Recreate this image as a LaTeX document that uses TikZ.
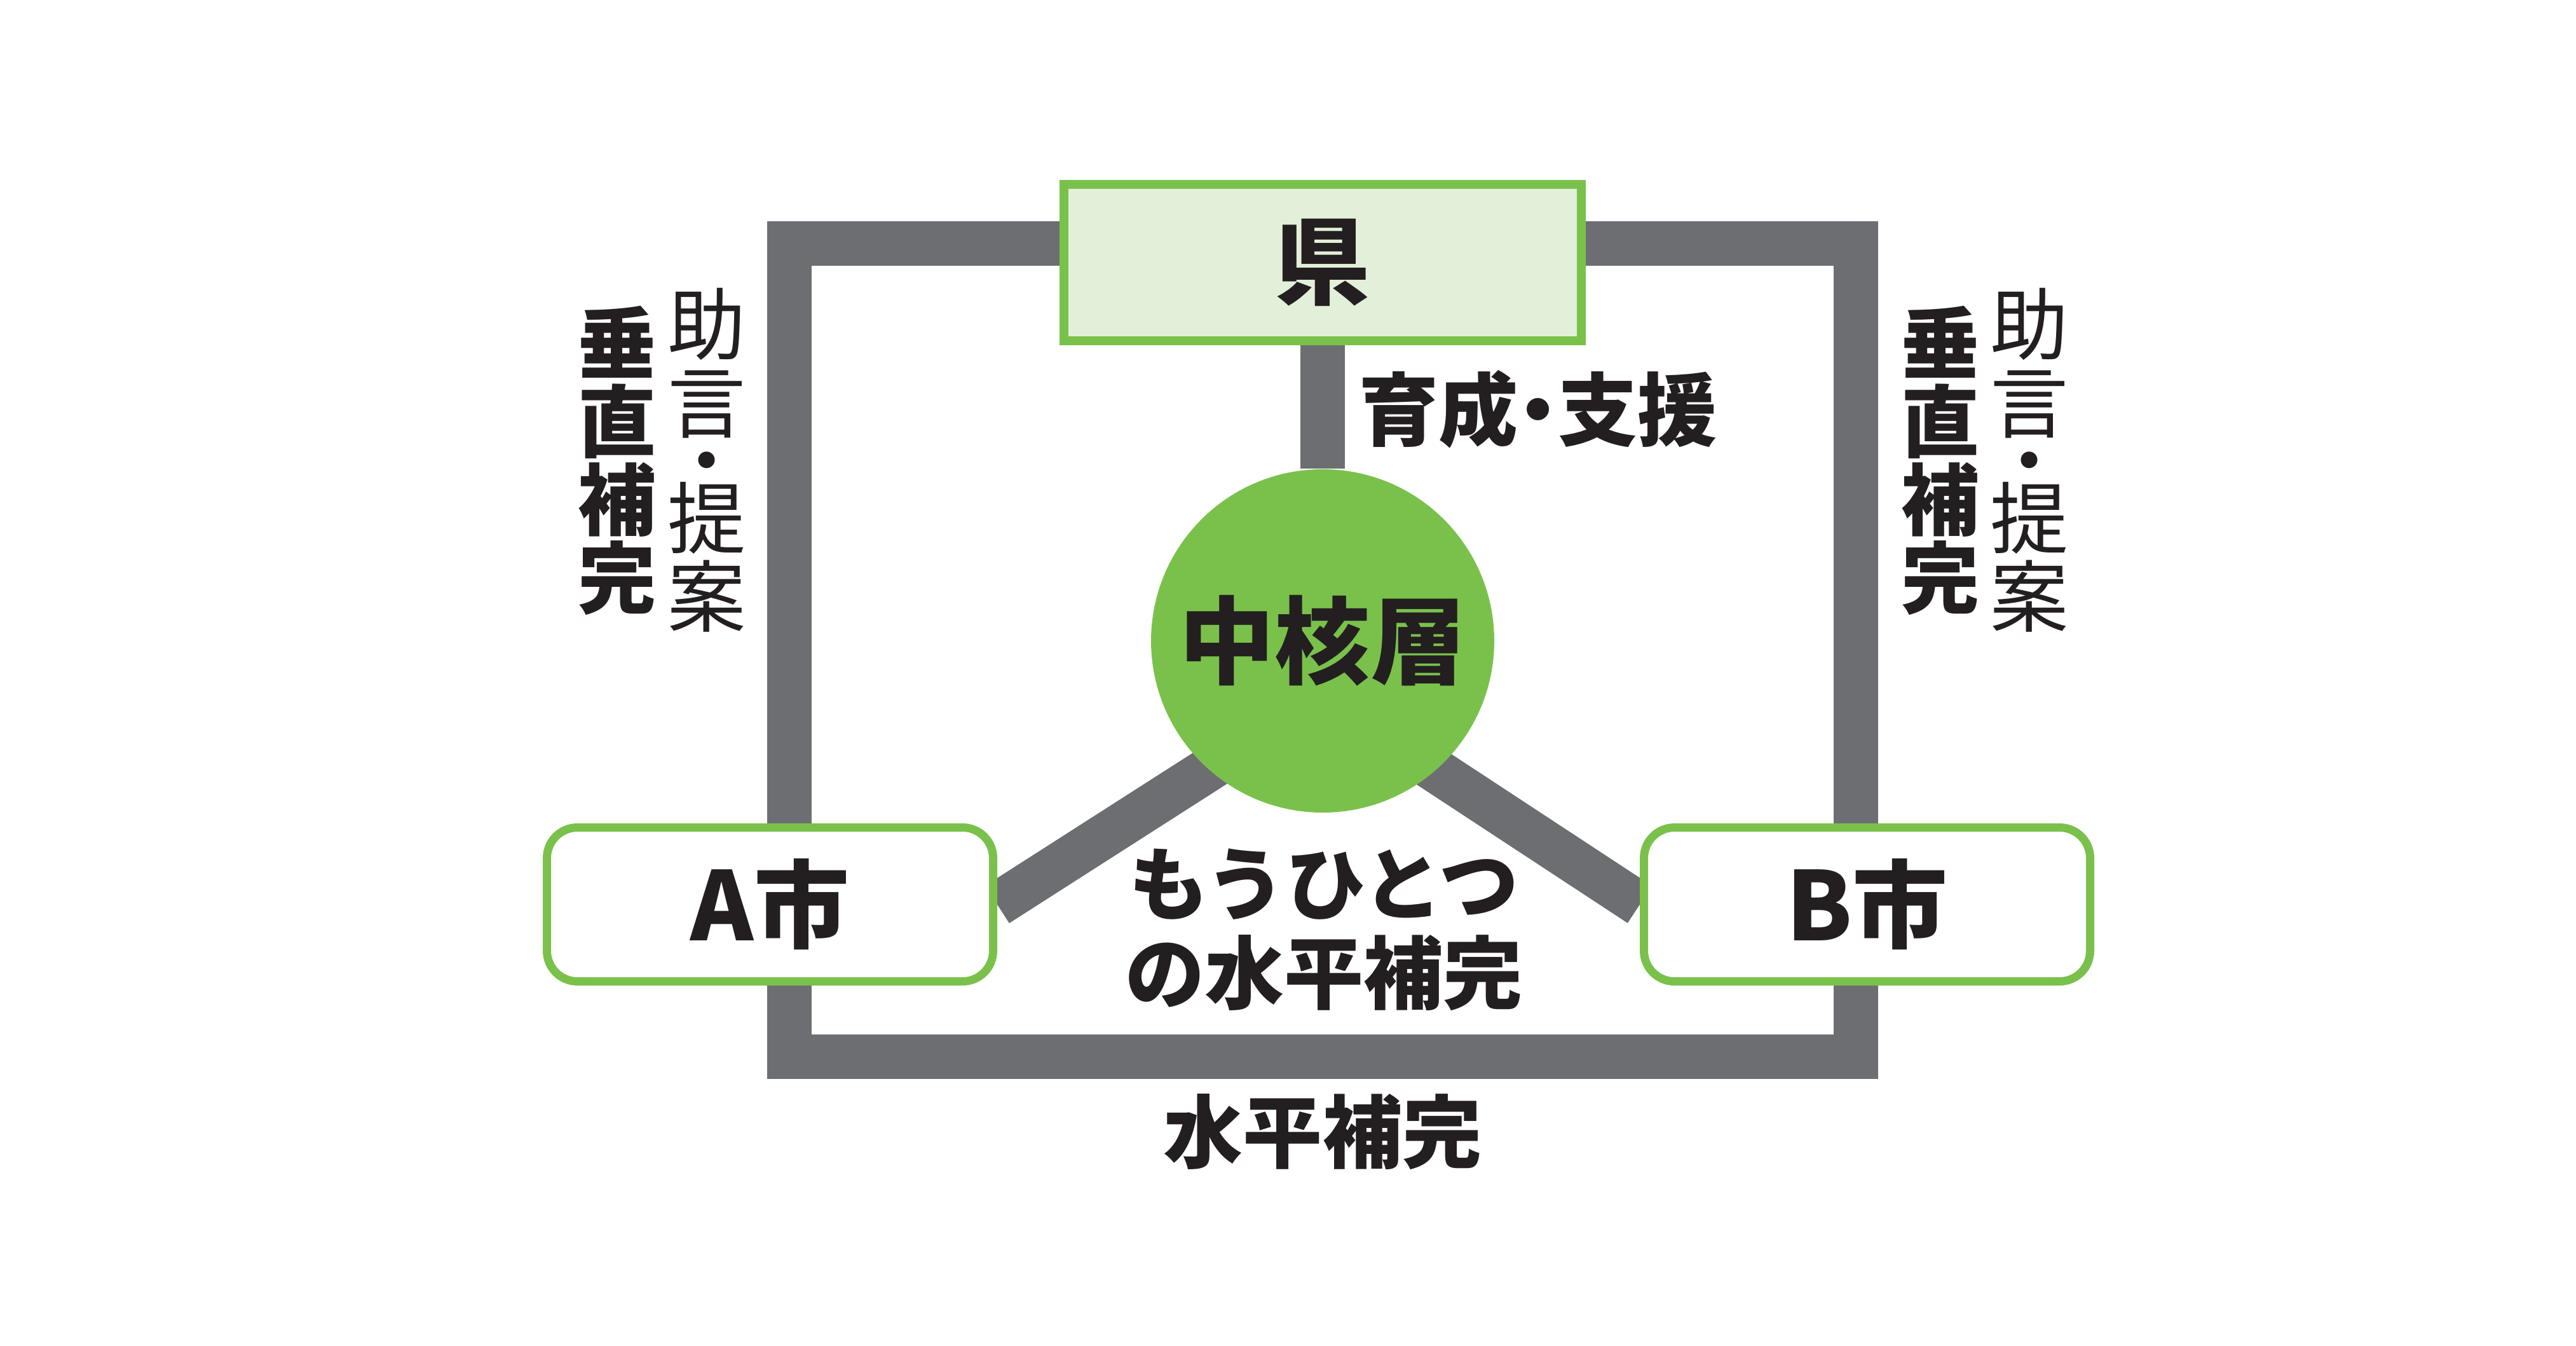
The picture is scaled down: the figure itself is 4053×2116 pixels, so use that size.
\documentclass[tikz,border=0pt]{standalone}
\usepackage{fontspec}
\setmainfont{Noto Sans CJK JP}
\usetikzlibrary{backgrounds}
\definecolor{barGray}{HTML}{6D6E71}
\definecolor{leaf}{HTML}{7AC14B}
\definecolor{pale}{HTML}{E2EFD9}
\definecolor{ink}{HTML}{231F20}
\newcommand\mytightlines{\lineskiplimit=-100pt\relax}
\newcommand\myvfont{\fontsize{35pt}{35pt}\selectfont\mytightlines}
\begin{document}
\begin{tikzpicture}[x=0.1mm,y=-0.1mm,
  bar/.style={draw=barGray,line width=7mm},
  bigtxt/.style={font=\fontsize{42.7pt}{42.7pt}\selectfont\bfseries,text=ink},
  midtxt/.style={font=\fontsize{35.6pt}{39.8pt}\selectfont\bfseries,text=ink,align=center,inner sep=0pt},
  citybox/.style={draw=leaf,line width=1.3mm,fill=white,minimum width=70.2mm,minimum height=24.2mm,rounded corners=4.8mm,inner sep=0pt,bigtxt},
  vcol/.style={text=ink,align=center,inner sep=0pt},
  vbold/.style={vcol,font=\myvfont\bfseries},
  vreg/.style={vcol,font=\myvfont}]
\useasboundingbox (0,0) rectangle (4053,2116);

% nodes
\node[draw=leaf,line width=1.4mm,fill=pale,minimum width=81.4mm,minimum height=24.6mm,inner sep=0pt,bigtxt] (ken) at (2081,413) {県};
\node[circle,fill=leaf,minimum size=54mm,inner sep=0pt,bigtxt] (core) at (2081,1008) {中核層};
\node[citybox] (A) at (1211.5,1422.5) {A市};
\node[citybox] (B) at (2937.5,1422.5) {B市};
\coordinate (hub) at (2081,1095);

\node[midtxt] (support) at (2420,644) {育成\makebox[.5em]{・}支援};
\node[midtxt] (other) at (2083,1462) {もうひとつ\\の水平補完};
\node[midtxt] (horiz) at (2081,1780) {水平補完};

\node[vbold] (vertL) at (971,724) {垂\\直\\補\\完};
\node[vreg] (adviceL) at (1112,724) {助\\言\\[-3.2mm]・\\[-3.2mm]提\\案};
\node[vbold] (vertR) at (3053,724) {垂\\直\\補\\完};
\node[vreg] (adviceR) at (3193,724) {助\\言\\[-3.2mm]・\\[-3.2mm]提\\案};

% connectors behind the nodes
\begin{scope}[on background layer]
  \fill[white] (0,0) rectangle (4053,2116);
  \draw[bar] (1242,383) rectangle (2920,1662);
  \draw[bar] (ken.south) -- (core.north);
  \draw[bar] (A.east) -- (hub);
  \draw[bar] (hub) -- (B.west);
\end{scope}
\end{tikzpicture}
\end{document}
